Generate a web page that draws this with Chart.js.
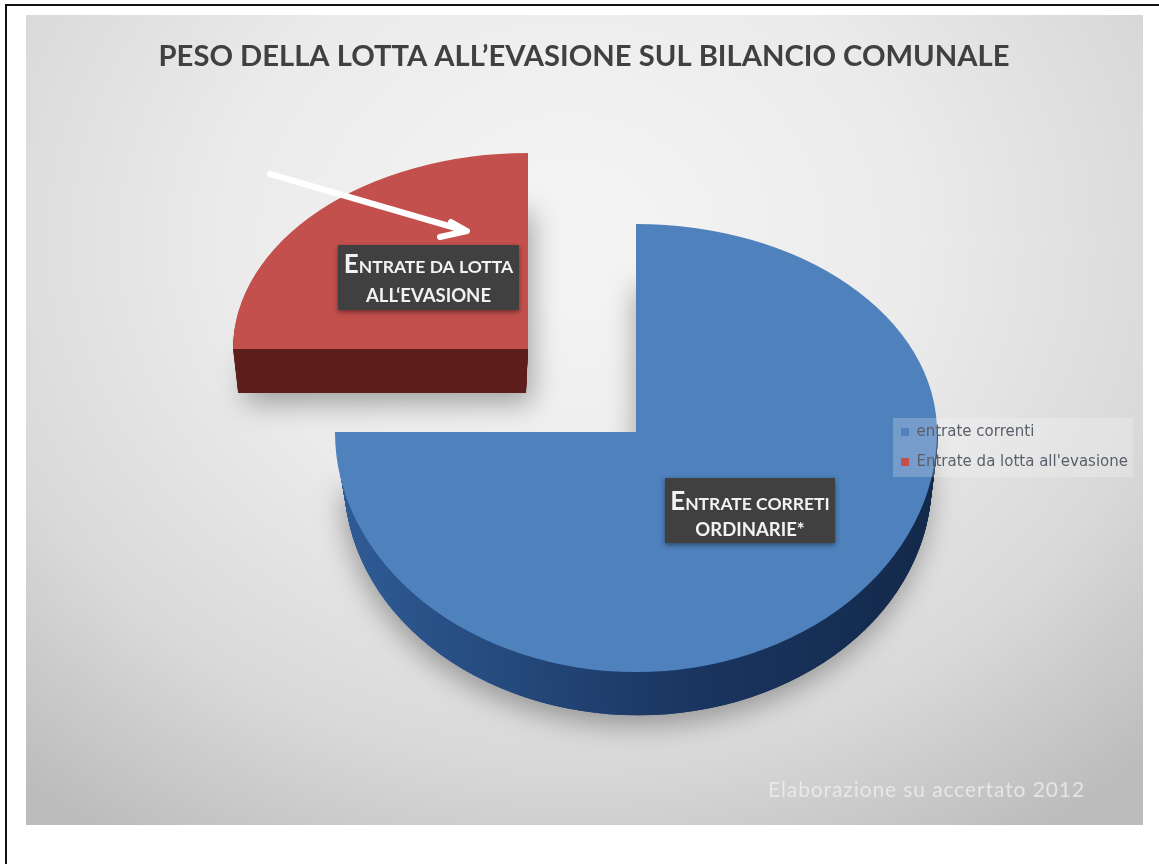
<!DOCTYPE html>
<html lang="it">
<head>
<meta charset="utf-8">
<title>Peso della lotta all'evasione sul bilancio comunale</title>
<script src="https://cdn.jsdelivr.net/npm/chart.js@4"></script>
<style>
  html, body { margin: 0; padding: 0; background: #fff; overflow: hidden; }
  #wrap { position: relative; width: 1159px; height: 864px; }
  canvas { display: block; }
</style>
</head>
<body>
<div id="wrap"><canvas id="c" width="1159" height="864"></canvas></div>
<script>
// Chart content
const categories = ['entrate correnti', "Entrate da lotta all'evasione"];
const values = [75, 25];
const sliceColors = ['#4f81bd', '#c4504d'];
const titleText = 'PESO DELLA LOTTA ALL\u2019EVASIONE SUL BILANCIO COMUNALE';
const footerText = 'Elaborazione su accertato 2012';

// Callout boxes: the first word gets a raised capital, the rest is set in small caps
const callouts = [
  { box: [338, 245, 181, 65], first: 'ENTRATE DA LOTTA', second: "ALL\u2018EVASIONE", base1: 273, base2: 302 },
  { box: [665, 478, 170, 65], first: 'ENTRATE CORRETI', second: 'ORDINARIE*', base1: 510, base2: 536 }
];

// Tilted pie geometry: where each wedge's apex lands and how the disc is squashed
const tilt = [
  { apex: [636, 432], rx: 301, ryUp: 208, ryDown: 240, depth: 49, shrink: 0.024, drift: 1,
    side: [[0, '#2f5b96'], [0.3, '#24487a'], [0.6, '#1a3560'], [1, '#13294a']] },
  { apex: [528, 349], rx: 295, ryUp: 196, ryDown: 196, depth: 44, shrink: 0.024, drift: -2,
    side: [[0, '#5c1f1b'], [1, '#5c1f1b']] }
];

const SANS = 'Lato, "Open Sans", sans-serif';

// Paints the page frame and the shaded panel behind the chart
const panelPlugin = {
  id: 'panel',
  beforeDraw(chart) {
    const { ctx } = chart;
    ctx.save();
    ctx.fillStyle = '#ffffff';
    ctx.fillRect(0, 0, chart.width, chart.height);
    ctx.fillStyle = '#111';
    ctx.fillRect(5, 4, chart.width - 5, 2);
    ctx.fillRect(5, 4, 2, chart.height - 4);

    ctx.beginPath();
    ctx.rect(26, 15, 1117, 810);
    ctx.clip();
    ctx.translate(570, 240);
    ctx.scale(1, 0.85);
    const g = ctx.createRadialGradient(0, 0, 80, 0, 0, 840);
    g.addColorStop(0, '#f3f3f3');
    g.addColorStop(0.35, '#ebebeb');
    g.addColorStop(0.7, '#d9d9d9');
    g.addColorStop(1, '#bcbcbc');
    ctx.fillStyle = g;
    ctx.fillRect(-700, -500, 1600, 1500);
    ctx.restore();
  }
};

// Draws one arc element through a squash transform; k and dy step it down the side wall.
// Wall layers skip the upper half of the disc, which the top face hides anyway.
function drawTilted(ctx, arc, t, k, dy, fill, wall) {
  const R = arc.outerRadius;
  const saved = arc.options;
  arc.options = Object.assign({}, saved, { backgroundColor: fill, borderWidth: 0, borderColor: fill });
  const step = (1 - k) / t.shrink;
  const ax = t.apex[0] + (dy > 0 ? t.drift * step + (t.drift > 0 ? 1 : 0) : 0);
  const ay = t.apex[1] + dy;
  let halves = t.ryUp === t.ryDown
    ? [[t.ryUp, null]]
    : [[t.ryUp, 'up'], [t.ryDown, 'down']];
  if (wall) halves = halves.filter(h => h[1] !== 'up');
  for (const [ry, part] of halves) {
    ctx.save();
    if (part) {
      ctx.beginPath();
      if (part === 'up') ctx.rect(0, 0, 1159, ay);
      else ctx.rect(0, ay, 1159, 864 - ay);
      ctx.clip();
    }
    ctx.translate(ax, ay);
    ctx.scale(t.rx * k / R, ry * k / R);
    ctx.translate(-arc.x, -arc.y);
    arc.draw(ctx);
    ctx.restore();
  }
  arc.options = saved;
}

const tiltedPiePlugin = {
  id: 'tiltedPie',
  beforeDatasetsDraw(chart) {
    const { ctx } = chart;
    const arcs = chart.getDatasetMeta(0).data;
    arcs.forEach((arc, i) => {
      const t = tilt[i];
      const R = arc.outerRadius;
      const grad = ctx.createLinearGradient(arc.x - R, 0, arc.x + R, 0);
      t.side.forEach(([p, c]) => grad.addColorStop(p, c));

      // Soft drop shadow under the base of the slice
      ctx.save();
      ctx.shadowColor = 'rgba(50,50,50,0.42)';
      ctx.shadowBlur = 28;
      ctx.shadowOffsetX = i === 0 ? -2 : 6;
      ctx.shadowOffsetY = 10;
      drawTilted(ctx, arc, t, 1 - t.shrink, t.depth, grad, false);
      ctx.restore();

      // Side wall
      for (let d = t.depth; d > 0; d -= 1) {
        drawTilted(ctx, arc, t, 1 - t.shrink * d / t.depth, d, grad, true);
      }
      // Top face
      drawTilted(ctx, arc, t, 1, 0, sliceColors[i], false);
    });
    return false;
  }
};

// Translucent legend plate, painted above the slices together with the legend itself
const legendLayerPlugin = {
  id: 'legendLayer',
  beforeUpdate(chart) {
    const legend = chart.legend;
    if (!legend || legend._raised) return;
    legend._raised = true;
    legend._layers = () => [{
      z: 5,
      draw(area) {
        const { ctx } = chart;
        ctx.save();
        ctx.fillStyle = 'rgba(255,255,255,0.22)';
        ctx.fillRect(893, 418, 240, 59);
        ctx.restore();
        legend.draw(area);
      }
    }];
  }
};

function smallCaps(ctx, text, cx, base, big, small) {
  const head = text[0];
  const tail = text.slice(1);
  ctx.font = `700 ${big}px ${SANS}`;
  const w1 = ctx.measureText(head).width;
  ctx.font = `700 ${small}px ${SANS}`;
  const w2 = ctx.measureText(tail).width;
  const x = cx - (w1 + w2) / 2;
  ctx.textAlign = 'left';
  ctx.textBaseline = 'alphabetic';
  ctx.font = `700 ${big}px ${SANS}`;
  ctx.fillText(head, x, base);
  ctx.font = `700 ${small}px ${SANS}`;
  ctx.fillText(tail, x + w1, base);
}

// Arrow, callouts and the credit line on top of everything else
const overlayPlugin = {
  id: 'overlay',
  afterDraw(chart) {
    const { ctx } = chart;
    ctx.save();

    ctx.save();
    ctx.strokeStyle = '#ffffff';
    ctx.lineWidth = 6;
    ctx.lineCap = 'round';
    ctx.lineJoin = 'round';
    ctx.beginPath();
    ctx.moveTo(270, 174);
    ctx.lineTo(466, 231);
    ctx.moveTo(451, 222);
    ctx.lineTo(467, 231);
    ctx.lineTo(440, 237);
    ctx.stroke();
    ctx.restore();

    callouts.forEach(c => {
      const [x, y, w, h] = c.box;
      ctx.save();
      ctx.shadowColor = 'rgba(0,0,0,0.45)';
      ctx.shadowBlur = 5;
      ctx.shadowOffsetY = 2;
      ctx.fillStyle = '#404040';
      ctx.fillRect(x, y, w, h);
      ctx.restore();
      ctx.fillStyle = '#f2f2f2';
      smallCaps(ctx, c.first, x + w / 2, c.base1, 26, 17.5);
      ctx.textAlign = 'center';
      ctx.font = `700 18.5px ${SANS}`;
      ctx.fillText(c.second, x + w / 2, c.base2);
    });

    ctx.fillStyle = 'rgba(240,240,240,0.75)';
    ctx.textAlign = 'left';
    ctx.textBaseline = 'alphabetic';
    ctx.font = `400 21px ${SANS}`;
    ctx.letterSpacing = '0.9px';
    ctx.fillText(footerText, 768, 797);
    ctx.restore();
  }
};

new Chart(document.getElementById('c'), {
  type: 'pie',
  data: {
    labels: categories,
    datasets: [{ data: values, backgroundColor: sliceColors, borderWidth: 0, hoverOffset: 0 }]
  },
  plugins: [panelPlugin, tiltedPiePlugin, legendLayerPlugin, overlayPlugin],
  options: {
    responsive: false,
    animation: false,
    layout: { padding: { top: 39, right: 21, bottom: 9, left: 30 } },
    plugins: {
      tooltip: { enabled: false },
      title: {
        display: true,
        text: titleText,
        color: '#404040',
        font: { family: SANS, size: 29.2, weight: '700' },
        padding: { top: 0, bottom: 0 }
      },
      legend: {
        position: 'right',
        labels: {
          boxWidth: 8,
          boxHeight: 8,
          padding: 15,
          color: '#595f69',
          font: { family: '"DejaVu Sans", sans-serif', size: 15 }
        }
      }
    }
  }
});
</script>
</body>
</html>
